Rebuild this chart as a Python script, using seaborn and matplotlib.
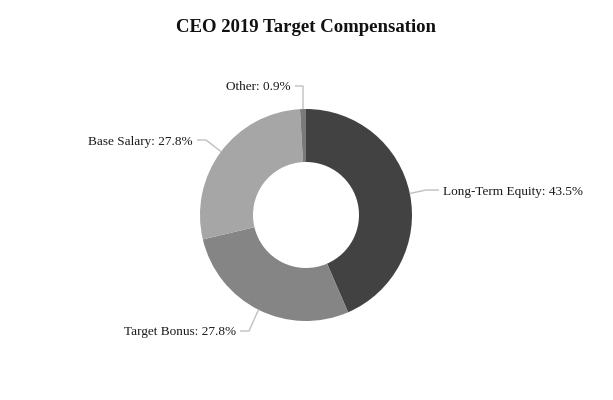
import numpy as np
import seaborn as sns
import matplotlib.pyplot as plt

# --- data ---
labels = ['Long-Term Equity', 'Target Bonus', 'Base Salary', 'Other']
shares = [43.5, 27.8, 27.8, 0.9]
colors = ['#424242', '#858585', '#a6a6a6', '#7a7a7a']

# --- layout (pixels from top-left of the 613x400 canvas) ---
cx, cy, r_px = 306, 215, 106
# elbow and end of each leader line, text alignment
leaders = [
    ((426, 190), (439, 190), 'left'),
    ((249, 331), (240, 331), 'right'),
    ((206, 140), (197, 140), 'right'),
    ((303, 86), (295, 86), 'right'),
]


def px(x, y):
    return (x - cx) / r_px, (cy - y) / r_px


sns.set_theme(style='white')
plt.rcParams['font.family'] = ['Liberation Serif', 'DejaVu Serif']

fig = plt.figure(figsize=(6.13, 4.0), dpi=100)
ax = fig.add_axes([0, 0, 1, 1])

wedges, _ = ax.pie(shares, colors=colors, startangle=90, counterclock=False,
                   radius=1.0, wedgeprops=dict(width=0.5, edgecolor='none'))

for w, lab, val, (elbow, end, ha) in zip(wedges, labels, shares, leaders):
    mid = np.deg2rad((w.theta1 + w.theta2) / 2)
    ax_, ay_ = np.cos(mid), np.sin(mid)
    ex, ey = px(*elbow)
    tx, ty = px(*end)
    ax.plot([ax_, ex, tx], [ay_, ey, ty], color='#c0c0c0', lw=1.0,
            solid_capstyle='butt')
    off = 0.04 if ha == 'left' else -0.04
    ax.text(tx + off, ty, f'{lab}: {val}%', ha=ha, va='center_baseline',
            fontsize=9.5, color='#1a1a1a')

ax.set_xlim(-cx / r_px, (613 - cx) / r_px)
ax.set_ylim(-(400 - cy) / r_px, cy / r_px)
ax.set_aspect('auto')
ax.axis('off')

fig.text(0.5, 1 - 28 / 400, 'CEO 2019 Target Compensation', ha='center',
         va='center', fontsize=13.5, fontweight='bold', color='#111111')

fig.savefig('out.png', dpi=100, facecolor='white')
